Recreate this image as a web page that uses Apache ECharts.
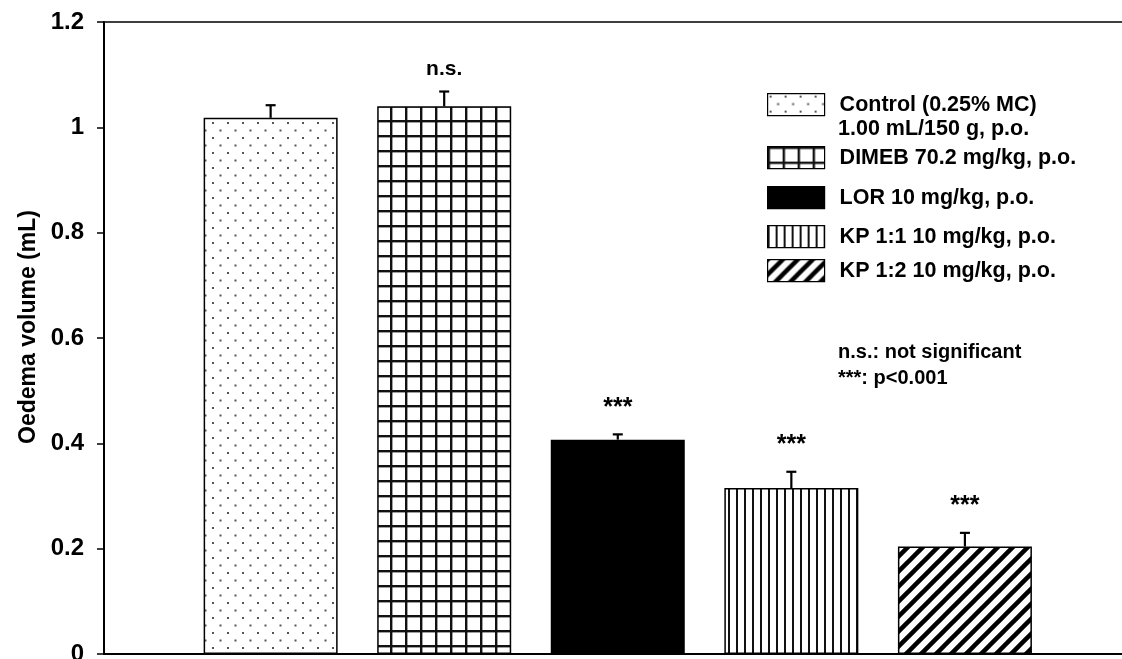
<!DOCTYPE html>
<html>
<head>
<meta charset="utf-8">
<title>Oedema volume</title>
<script src="https://cdn.jsdelivr.net/npm/echarts@6/dist/echarts.min.js"></script>
<style>
  html, body { margin: 0; padding: 0; background: #fff; }
  #chart { width: 1122px; height: 659px; }
</style>
</head>
<body>
<div id="chart"></div>
<script>
// Treatment groups, mean oedema volume (mL), SEM and significance marks
const categories = [
  'Control (0.25% MC)\n1.00 mL/150 g, p.o.',
  'DIMEB 70.2 mg/kg, p.o.',
  'LOR 10 mg/kg, p.o.',
  'KP 1:1 10 mg/kg, p.o.',
  'KP 1:2 10 mg/kg, p.o.'
];
const means = [1.018, 1.040, 0.407, 0.315, 0.204];
const sems = [0.024, 0.028, 0.010, 0.031, 0.026];
const marks = ['', 'n.s.', '***', '***', '***'];
const notes = ['n.s.: not significant', '***: p<0.001'];

const FONT = '"Liberation Sans", Arial, sans-serif';

// --- fill patterns -------------------------------------------------------
function tile(w, h, draw) {
  const c = document.createElement('canvas');
  c.width = w; c.height = h;
  const ctx = c.getContext('2d');
  ctx.fillStyle = '#fff';
  ctx.fillRect(0, 0, w, h);
  draw(ctx, w, h);
  return { image: c, repeat: 'repeat' };
}
const dotFill = tile(15, 15, (ctx) => {
  ctx.fillStyle = '#555';
  ctx.fillRect(2, 2, 2, 2);
  ctx.fillRect(9.5, 9.5, 2, 2);
});
const gridFill = tile(15, 15, (ctx) => {
  ctx.fillStyle = '#111';
  ctx.fillRect(0, 0, 2.4, 15);
  ctx.fillRect(0, 0, 15, 2.4);
});
const vlineFill = tile(8, 8, (ctx) => {
  ctx.fillStyle = '#111';
  ctx.fillRect(0, 0, 2, 8);
});
const diagFill = tile(15, 15, (ctx, s) => {
  ctx.strokeStyle = '#000';
  ctx.lineWidth = 4.5;
  for (const c of [0, s, 2 * s]) {
    ctx.beginPath();
    ctx.moveTo(c + s, -s);
    ctx.lineTo(-s, c + s);
    ctx.stroke();
  }
});
const fills = [dotFill, gridFill, '#000', vlineFill, diagFill];

// --- series --------------------------------------------------------------
const barSeries = categories.map((name, i) => ({
  name: name,
  type: 'bar',
  barWidth: 134,
  barGap: '-100%',
  itemStyle: { color: fills[i], borderColor: '#000', borderWidth: 1.5 },
  data: [[i + 1, means[i]]],
  z: 2
}));

const errorSeries = {
  type: 'custom',
  data: means.map((m, i) => [i + 1, m, sems[i]]),
  z: 5,
  renderItem: function (params, api) {
    const x = api.value(0), m = api.value(1), s = api.value(2);
    const base = api.coord([x, m]);
    const top = api.coord([x, m + s]);
    const cap = 5;
    const lineStyle = { stroke: '#000', lineWidth: 2.2 };
    const children = [
      { type: 'line', shape: { x1: base[0], y1: base[1], x2: top[0], y2: top[1] }, style: lineStyle },
      { type: 'line', shape: { x1: top[0] - cap, y1: top[1], x2: top[0] + cap, y2: top[1] }, style: lineStyle }
    ];
    const mark = marks[params.dataIndex];
    if (mark) {
      const stars = mark.charAt(0) === '*';
      children.push({
        type: 'text',
        style: {
          text: mark, x: top[0], y: top[1] - (stars ? 14 : 12),
          align: 'center', verticalAlign: 'bottom',
          font: 'bold ' + (stars ? 25 : 21) + 'px ' + FONT, fill: '#000'
        }
      });
    }
    return { type: 'group', children: children };
  }
};

// one legend block per group so rows can sit at their own heights
const legendTops = [93, 146, 186, 225, 259];
const legends = categories.map((name, i) => ({
  data: [name],
  left: 767,
  top: legendTops[i],
  padding: 0,
  itemWidth: 57,
  itemHeight: 22,
  selectedMode: false,
  icon: 'rect',
  itemStyle: { borderColor: '#000', borderWidth: 1.2 },
  formatter: (n) => n.split('\n')[0],
  textStyle: { fontFamily: FONT, fontWeight: 'bold', fontSize: 21.5, color: '#000', padding: [0, 0, 0, 10] }
}));

const option = {
  animation: false,
  backgroundColor: '#fff',
  grid: { left: 104, right: 0, top: 22, bottom: 5, outerBoundsMode: 'none', containLabel: false },
  xAxis: [
    {
      type: 'value', position: 'bottom', min: 0.04, max: 5.905,
      axisLine: { show: true, lineStyle: { color: '#000', width: 2 } },
      axisTick: { show: false }, axisLabel: { show: false }, splitLine: { show: false }
    },
    {
      type: 'value', position: 'top', min: 0.04, max: 5.905,
      axisLine: { show: true, lineStyle: { color: '#000', width: 1.5 } },
      axisTick: { show: false }, axisLabel: { show: false }, splitLine: { show: false }
    }
  ],
  yAxis: {
    type: 'value', min: 0, max: 1.2, interval: 0.2,
    name: 'Oedema volume (mL)',
    nameLocation: 'middle',
    nameGap: 60,
    nameTextStyle: { fontFamily: FONT, fontWeight: 'bold', fontSize: 23, color: '#000', padding: [0, 0, 0, 22] },
    axisLine: { show: true, onZero: false, lineStyle: { color: '#000', width: 2 } },
    axisTick: { show: true, length: 7, lineStyle: { color: '#000', width: 1.5 } },
    axisLabel: { margin: 20, fontFamily: FONT, fontWeight: 'bold', fontSize: 24, color: '#000' },
    splitLine: { show: false }
  },
  legend: legends,
  graphic: [
    { type: 'text', left: 838, top: 118,
      style: { text: categories[0].split('\n')[1], font: 'bold 21.5px ' + FONT, fill: '#000' } },
    { type: 'text', left: 838, top: 342,
      style: { text: notes[0], font: 'bold 20px ' + FONT, fill: '#000' } },
    { type: 'text', left: 838, top: 368,
      style: { text: notes[1], font: 'bold 20px ' + FONT, fill: '#000' } }
  ],
  series: barSeries.concat([errorSeries])
};

const chart = echarts.init(document.getElementById('chart'), null, { renderer: 'canvas' });
chart.setOption(option);
</script>
</body>
</html>
